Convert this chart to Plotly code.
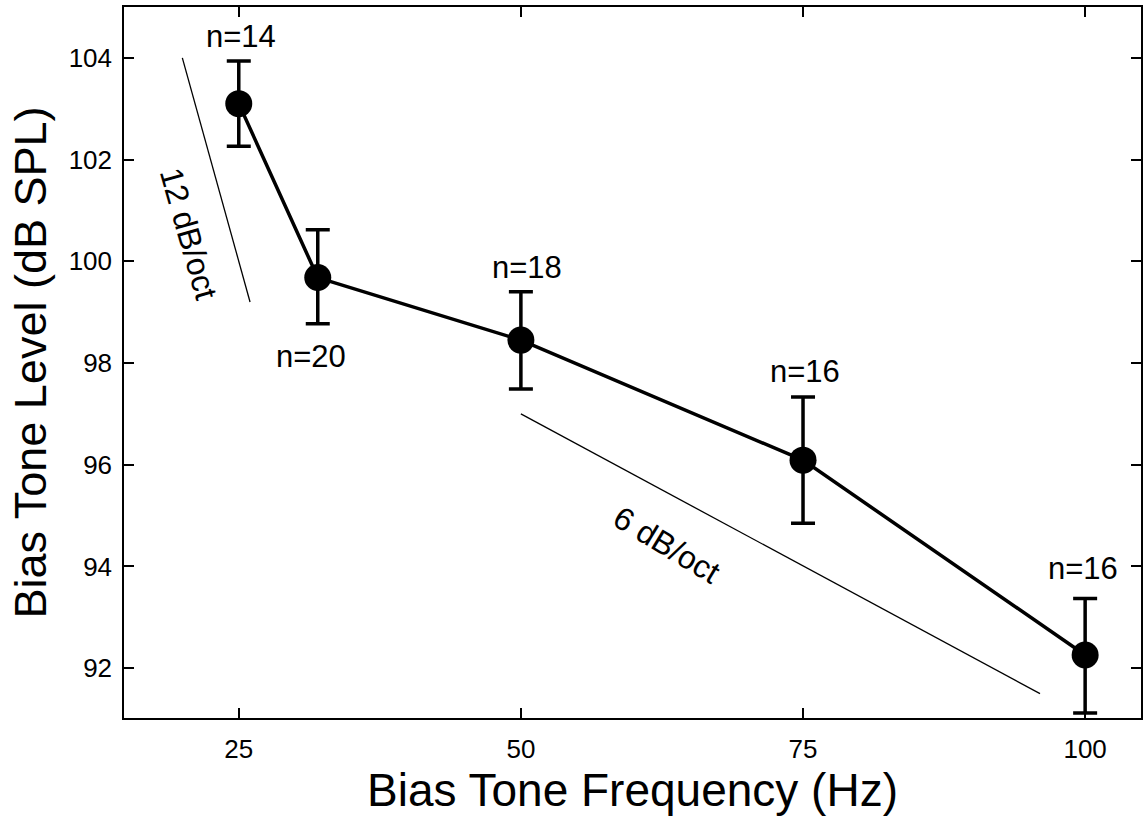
import plotly.graph_objects as go

freq_hz = [25, 32, 50, 75, 100]
level_db = [103.10, 99.68, 98.45, 96.09, 92.26]
err_plus = [0.84, 0.94, 0.95, 1.24, 1.11]
err_minus = [0.84, 0.91, 0.96, 1.24, 1.14]
n_labels = ["n=14", "n=20", "n=18", "n=16", "n=16"]
n_label_x = [25.2, 31.4, 50.5, 75.2, 99.8]
n_label_y = [104.42, 98.12, 99.87, 97.84, 93.95]

slope12_x = [20, 26]
slope12_y = [104.0, 99.2]
slope6_x = [50, 96]
slope6_y = [97.0, 91.5]

x_ticks = [25, 50, 75, 100]
y_ticks = [92, 94, 96, 98, 100, 102, 104]

FONT = "Liberation Sans, Arial, Helvetica, sans-serif"

fig = go.Figure()

fig.add_trace(go.Scatter(
    x=slope12_x, y=slope12_y, mode="lines",
    line=dict(color="black", width=1.3), hoverinfo="skip", showlegend=False))
fig.add_trace(go.Scatter(
    x=slope6_x, y=slope6_y, mode="lines",
    line=dict(color="black", width=1.3), hoverinfo="skip", showlegend=False))

fig.add_trace(go.Scatter(
    x=freq_hz, y=level_db, mode="lines+markers",
    line=dict(color="black", width=3.5),
    marker=dict(color="black", size=27, symbol="circle"),
    error_y=dict(type="data", symmetric=False, array=err_plus, arrayminus=err_minus,
                 color="black", thickness=3.5, width=12),
    showlegend=False))

for tx, ty, t in zip(n_label_x, n_label_y, n_labels):
    fig.add_annotation(x=tx, y=ty, text=t, showarrow=False,
                       xanchor="center", yanchor="middle",
                       font=dict(family=FONT, size=31, color="black"))

fig.add_annotation(x=20.58, y=100.54, text="12 dB/oct", showarrow=False,
                   textangle=74, xanchor="center", yanchor="middle",
                   font=dict(family=FONT, size=32, color="black"))
fig.add_annotation(x=62.94, y=94.42, text="6 dB/oct", showarrow=False,
                   textangle=31, xanchor="center", yanchor="middle",
                   font=dict(family=FONT, size=32, color="black"))

axis_common = dict(
    showgrid=False, zeroline=False, showline=True, linecolor="black", linewidth=1.5,
    mirror="ticks", ticks="inside", ticklen=10, tickwidth=1.5, tickcolor="black",
    tickfont=dict(family=FONT, size=26, color="black"),
)

fig.update_xaxes(range=[14.83, 104.95], tickvals=x_ticks, ticklabelstandoff=7,
                 title=dict(text="Bias Tone Frequency (Hz)",
                            font=dict(family=FONT, size=46, color="black"), standoff=10),
                 **axis_common)
fig.update_yaxes(range=[91.02, 105.0], tickvals=y_ticks, ticklabelstandoff=5,
                 title=dict(text="Bias Tone Level (dB SPL)",
                            font=dict(family=FONT, size=45, color="black"), standoff=8),
                 **axis_common)

fig.update_layout(
    width=1144, height=821,
    margin=dict(l=124, r=1, t=7, b=103),
    paper_bgcolor="white", plot_bgcolor="white",
    font=dict(family=FONT, color="black"),
)

fig.write_html("out.html", config={"displayModeBar": False},
               post_script="document.body.style.margin='0';document.body.style.overflow='hidden';")
